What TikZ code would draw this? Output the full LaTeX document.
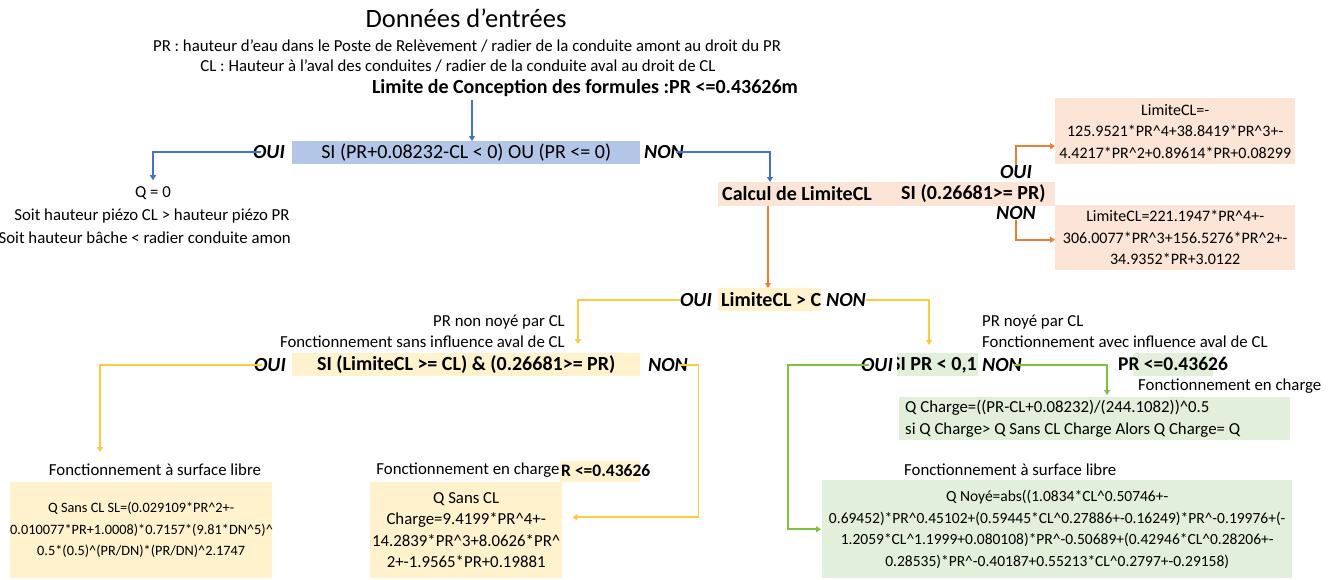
\documentclass[tikz,border=0pt]{standalone}
\usepackage{fontspec}
\setmainfont{Carlito}
\usetikzlibrary{arrows.meta}
\definecolor{bfill}{HTML}{B4C6E7}
\definecolor{bline}{HTML}{4472C4}
\definecolor{ofill}{HTML}{FCE4D6}
\definecolor{oline}{HTML}{ED7D31}
\definecolor{yfill}{HTML}{FFF2CC}
\definecolor{yline}{HTML}{FFC940}
\definecolor{gfill}{HTML}{E2EFDA}
\definecolor{gline}{HTML}{7DC242}
\tikzset{
  txt/.style={inner sep=0pt, font=\fontsize{16.8}{21.5}\selectfont},
  btxt/.style={inner sep=0pt, font=\fontsize{20}{22}\selectfont\bfseries},
  sbtxt/.style={inner sep=0pt, font=\fontsize{17.5}{21}\selectfont\bfseries},
  lab/.style={inner sep=0pt, font=\fontsize{20}{22}\selectfont\bfseries\itshape},
  cell/.style={inner sep=0pt, anchor=north west, align=flush center, font=\fontsize{16.8}{21.5}\selectfont},
  conn/.style={line width=1.8pt, -{Triangle[length=5pt,width=6pt]}},
}
\begin{document}
\begin{tikzpicture}[x=1pt,y=-1pt]
\useasboundingbox (0,0) rectangle (1330,579);
% header
\node[inner sep=0pt, font=\fontsize{26.5}{30}\selectfont] (title) at (466,18) {Données d'entrées};
\node[txt] (l1) at (467,46) {PR : hauteur d'eau dans le Poste de Relèvement / radier de la conduite amont au droit du PR};
\node[txt] (l2) at (458,66) {CL : Hauteur à l'aval des conduites / radier de la conduite aval au droit de CL};
\node[btxt] (l3) at (585,88) {Limite de Conception des formules :PR <=0.43626m};
% first test
\node[cell, fill=bfill, minimum width=348, minimum height=23, font=\fontsize{20}{22}\selectfont] (si1) at (292,141) {SI (PR+0.08232-CL < 0) OU (PR <= 0)};
\coordinate (c1) at (472,100);
\draw[conn, bline] (c1) -- (c1 |- si1.north);
\node[lab] (oui1) at (269,152) {OUI};
\node[lab] (non1) at (664,152) {NON};
\node[txt] (q0) at (153,193) {Q = 0};
\node[txt] (soit1) at (152,216) {Soit hauteur piézo CL > hauteur piézo PR};
\node[txt, anchor=east] (soit2) at (291,238) {Soit hauteur bâche < radier conduite amon};
\draw[conn, bline] ([xshift=8]oui1.west) -| ([yshift=6]q0.north);
% calcul limite
\node[cell, fill=ofill, minimum width=337, minimum height=24] (calc) at (718,182) {};
\node[btxt, anchor=west] (calct) at (722,194) {Calcul de LimiteCL};
\node[btxt, anchor=west] (calcs) at (901,194) {SI (0.26681>= PR)};
\draw[conn, bline] ([xshift=-8]non1.east) -| ([xshift=52]calc.north west);
\node[cell, fill=ofill, minimum width=240, minimum height=66, text width=240, font=\fontsize{16}{21.5}\selectfont] (lcl1) at (1055,98) {LimiteCL=-\\125.9521*PR\string^4+38.8419*PR\string^3+-\\4.4217*PR\string^2+0.89614*PR+0.08299};
\node[cell, fill=ofill, minimum width=240, minimum height=65, text width=240, font=\fontsize{16}{21.5}\selectfont] (lcl2) at (1055,205) {LimiteCL=221.1947*PR\string^4+-\\306.0077*PR\string^3+156.5276*PR\string^2+-\\34.9352*PR+3.0122};
\node[lab] (oui2) at (1016,172) {OUI};
\node[lab] (non2) at (1016,213) {NON};
\draw[conn, oline] (oui2.north) |- ([yshift=-15]lcl1.west);
\draw[conn, oline] (non2.south) |- ([yshift=-2]lcl2.west);
% LimiteCL > CL
\node[cell, fill=yfill, minimum width=103, minimum height=23] (lim) at (718,288) {};
\begin{scope}
\clip (lim.north west) rectangle (lim.south east);
\node[btxt, anchor=west] (limt) at (721,300) {LimiteCL > CL};
\end{scope}
\draw[conn, oline] ([xshift=50]calc.south west) -- ([xshift=50]lim.north west);
\node[lab] (oui3) at (696,300) {OUI};
\node[lab] (non3) at (846,300) {NON};
% left branch
\node[txt, anchor=east] (pr1) at (565,322) {PR non noyé par CL};
\node[txt, anchor=east] (fs1) at (565,342) {Fonctionnement sans influence aval de CL};
\node[cell, fill=yfill, minimum width=348, minimum height=23, font=\fontsize{20}{22}\selectfont\bfseries] (si2) at (292,353) {SI (LimiteCL >= CL) \& (0.26681>= PR)};
\draw[conn, yline] (oui3.west) -| ([xshift=286,yshift=9]si2.north west);
\node[lab] (oui4) at (270,365) {OUI};
\node[lab] (non4) at (668,365) {NON};
\node[txt] (fsl1) at (155,470) {Fonctionnement à surface libre};
\node[cell, fill=yfill, minimum width=262, minimum height=96, text width=262, font=\fontsize{14.3}{21.5}\selectfont] (qsl) at (10,482) {Q Sans CL SL=(0.029109*PR\string^2+-\\0.010077*PR+1.0008)*0.7157*(9.81*DN\string^5)\string^\\0.5*(0.5)\string^(PR/DN)*(PR/DN)\string^2.1747};
\draw[conn, yline] ([xshift=8]oui4.west) -| ([xshift=90,yshift=30]qsl.north west);
\node[txt] (fch1) at (468,470) {Fonctionnement en charge};
\node[cell, fill=yfill, minimum width=80, minimum height=21] (pc1) at (560,461) {};
\node[sbtxt, anchor=west] (pc1t) at (561,471) {R <=0.43626};
\node[cell, fill=yfill, minimum width=192, minimum height=96, text width=192] (qch) at (370,482) {Q Sans CL\\Charge=9.4199*PR\string^4+-\\14.2839*PR\string^3+8.0626*PR\string^\\2+-1.9565*PR+0.19881};
\draw[conn, yline] ([xshift=-8]non4.east) -| ([xshift=136,yshift=13]qch.east) -- ([xshift=10,yshift=13]qch.east);
% right branch
\node[txt, anchor=west] (pr2) at (982,322) {PR noyé par CL};
\node[txt, anchor=west] (fa2) at (982,342) {Fonctionnement avec influence aval de CL};
\node[cell, fill=gfill, minimum width=81, minimum height=23] (si3) at (897,353) {};
\begin{scope}
\clip (si3.north west) rectangle (si3.south east);
\node[btxt, anchor=east] (si3t) at (977,365) {SI PR < 0,1};
\end{scope}
\draw[conn, yline] (non3.east) -| ([xshift=32,yshift=8]si3.north west);
\node[lab] (oui5) at (877,365) {OUI};
\node[lab] (non5) at (1002,365) {NON};
\node[cell, fill=gfill, minimum width=80, minimum height=23] (pc2) at (1133,353) {};
\node[btxt, anchor=west, font=\fontsize{19.5}{22}\selectfont\bfseries] (pc2t) at (1118,364) {PR <=0.43626};
\node[txt, anchor=west] (fch2) at (1138,386) {Fonctionnement en charge};
\node[cell, fill=gfill, minimum width=391, minimum height=43, align=flush left, text width=379, inner xsep=6pt] (qcg) at (899,397) {Q Charge=((PR-CL+0.08232)/(244.1082))\string^0.5\\si Q Charge> Q Sans CL Charge Alors Q Charge= Q};
\draw[conn, gline] ([xshift=-8]non5.east) -| ([xshift=208,yshift=2]qcg.north west);
\node[txt, anchor=west] (fsl2) at (904,470) {Fonctionnement à surface libre};
\node[cell, fill=gfill, minimum width=470, minimum height=98, text width=470, font=\fontsize{15.5}{21.5}\selectfont] (qny) at (822,480) {Q Noyé=abs((1.0834*CL\string^0.50746+-\\0.69452)*PR\string^0.45102+(0.59445*CL\string^0.27886+-0.16249)*PR\string^-0.19976+(-\\1.2059*CL\string^1.1999+0.080108)*PR\string^-0.50689+(0.42946*CL\string^0.28206+-\\0.28535)*PR\string^-0.40187+0.55213*CL\string^0.2797+-0.29158)};
\draw[conn, gline] ([xshift=8]oui5.west) -| ([xshift=-34]qny.west) -- ([xshift=-1]qny.west);
\end{tikzpicture}
\end{document}
